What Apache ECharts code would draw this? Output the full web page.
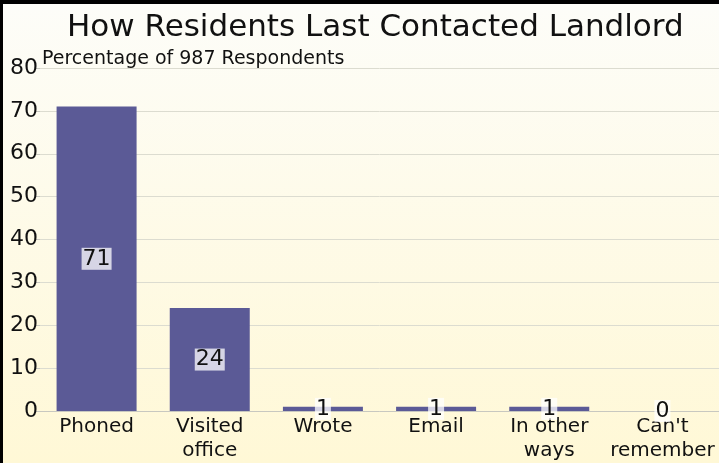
<!DOCTYPE html>
<html><head><meta charset="utf-8">
<script src="https://cdn.jsdelivr.net/npm/echarts@6/dist/echarts.min.js"></script>
<style>html,body{margin:0;padding:0;}#c{width:719px;height:463px;}</style>
</head><body><div id="c"></div>
<script>
var categories = ["Phoned", "Visited\noffice", "Wrote", "Email", "In other\nways", "Can't\nremember"];
var values = [71, 24, 1, 1, 1, 0];
var yTicks = [0, 10, 20, 30, 40, 50, 60, 70, 80];

var chart = echarts.init(document.getElementById('c'), null, {renderer: 'canvas'});
var FONT = 'DejaVu Sans';
chart.setOption({
  animation: false,
  backgroundColor: {type: 'linear', x: 0, y: 0, x2: 0, y2: 1,
    colorStops: [{offset: 0, color: '#fdfdf9'}, {offset: 1, color: '#fff8d6'}]},
  title: [
    {text: 'How Residents Last Contacted Landlord', left: 62, top: 7,
     textStyle: {fontFamily: FONT, fontSize: 31, fontWeight: 'normal', color: '#111'}},
    {text: 'Percentage of 987 Respondents', left: 37, top: 45,
     textStyle: {fontFamily: FONT, fontSize: 19, fontWeight: 'normal', color: '#111'}}
  ],
  grid: {left: 40, top: 68, bottom: 52, width: 684, containLabel: false},
  xAxis: {type: 'category', data: categories,
    axisLine: {lineStyle: {color: '#c8c8c0'}},
    axisTick: {show: false},
    axisLabel: {fontFamily: FONT, fontSize: 20, color: '#111', margin: 4, lineHeight: 24, interval: 0}},
  yAxis: {type: 'value', min: yTicks[0], max: yTicks[yTicks.length - 1], interval: 10,
    axisLine: {show: false},
    axisTick: {show: true, length: 4, lineStyle: {color: '#c8c8c0'}},
    splitLine: {lineStyle: {color: '#dcdcd0'}},
    axisLabel: {fontFamily: FONT, fontSize: 22, color: '#111', margin: 2}},
  series: [{type: 'bar', data: values, barWidth: 80,
    itemStyle: {color: '#5b5a96'},
    label: {show: true, position: 'inside', fontFamily: FONT, fontSize: 22, color: '#111',
      backgroundColor: 'rgba(255,255,255,0.75)', padding: [0, 1]}}],
  graphic: [
    {type: 'rect', left: 0, top: 0, shape: {width: 719, height: 4}, style: {fill: '#000'}, z: 100},
    {type: 'rect', left: 0, top: 0, shape: {width: 3, height: 463}, style: {fill: '#000'}, z: 100}
  ]
});
</script></body></html>
